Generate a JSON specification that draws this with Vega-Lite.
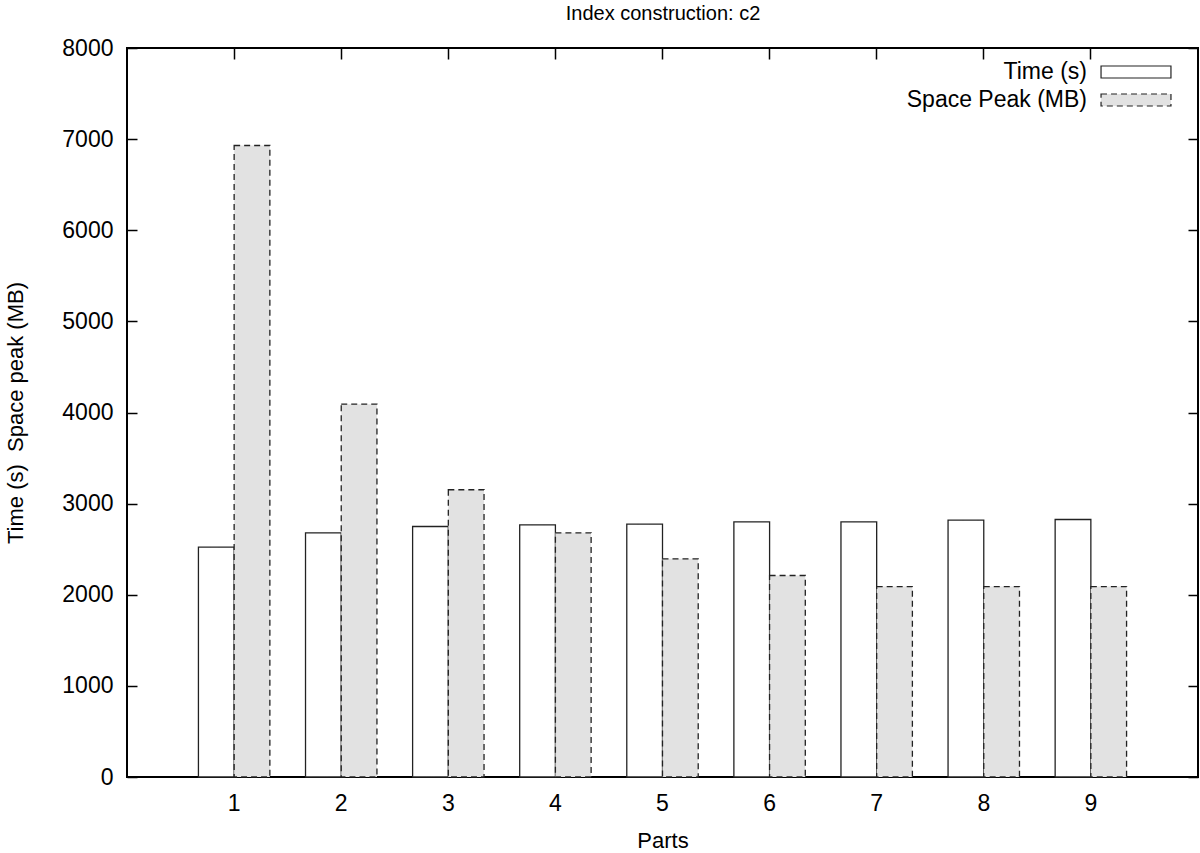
{
  "$schema": "https://vega.github.io/schema/vega-lite/v6.json",
  "width": 1071,
  "height": 729,
  "autosize": {"type": "none"},
  "padding": {"left": 127, "top": 48, "right": 2, "bottom": 76},
  "background": "white",
  "config": {
    "view": {"stroke": "black", "strokeWidth": 2},
    "font": "Liberation Sans",
    "axis": {"domain": false, "grid": false, "labelFont": "Liberation Sans", "labelFontSize": 23, "labelColor": "black", "titleFont": "Liberation Sans", "titleFontSize": 22, "titleFontWeight": "normal", "titleColor": "black", "tickColor": "black", "tickWidth": 1.5}
  },
  "data": {"values": [
    {"part": "1", "series": "Time (s)", "value": 2522},
    {"part": "2", "series": "Time (s)", "value": 2680},
    {"part": "3", "series": "Time (s)", "value": 2749},
    {"part": "4", "series": "Time (s)", "value": 2767},
    {"part": "5", "series": "Time (s)", "value": 2774},
    {"part": "6", "series": "Time (s)", "value": 2800},
    {"part": "7", "series": "Time (s)", "value": 2800},
    {"part": "8", "series": "Time (s)", "value": 2818},
    {"part": "9", "series": "Time (s)", "value": 2826},
    {"part": "1", "series": "Space Peak (MB)", "value": 6930},
    {"part": "2", "series": "Space Peak (MB)", "value": 4091},
    {"part": "3", "series": "Space Peak (MB)", "value": 3152},
    {"part": "4", "series": "Space Peak (MB)", "value": 2680},
    {"part": "5", "series": "Space Peak (MB)", "value": 2394},
    {"part": "6", "series": "Space Peak (MB)", "value": 2211},
    {"part": "7", "series": "Space Peak (MB)", "value": 2090},
    {"part": "8", "series": "Space Peak (MB)", "value": 2090},
    {"part": "9", "series": "Space Peak (MB)", "value": 2090}
  ]},
  "layer": [
    {
      "mark": {"type": "bar", "stroke": "#222222", "strokeWidth": 1.3},
      "encoding": {
        "x": {"field": "part", "type": "ordinal", "sort": ["1","2","3","4","5","6","7","8","9"],
              "scale": {"paddingInner": 0.333, "paddingOuter": 0.667},
              "axis": {"title": "Parts", "labelAngle": 0, "tickSize": -9, "labelPadding": 24, "titleY": 70, "titleBaseline": "alphabetic"}},
        "xOffset": {"field": "series", "type": "nominal", "sort": ["Time (s)", "Space Peak (MB)"], "scale": {"paddingInner": 0, "paddingOuter": 0}},
        "y": {"field": "value", "type": "quantitative", "scale": {"domain": [0, 8000], "nice": false},
              "axis": {"title": "Time (s)\u00a0\u00a0Space peak (MB)", "format": "d", "values": [0,1000,2000,3000,4000,5000,6000,7000,8000], "tickSize": -10, "labelPadding": 24, "titleX": -112, "titleBaseline": "middle"}},
        "fill": {"field": "series", "type": "nominal", "sort": ["Time (s)", "Space Peak (MB)"],
                 "scale": {"domain": ["Time (s)", "Space Peak (MB)"], "range": ["#ffffff", "#e2e2e2"]},
                 "legend": {"title": null, "orient": "none", "legendX": 996.5, "legendY": 11.5, "symbolType": "M-3.04,-0.52H3.04V0.52H-3.04Z", "symbolSize": 529, "symbolStrokeWidth": 1.2, "symbolStrokeColor": "#222222", "labelAlign": "right", "labelOffset": -61.5, "labelFontSize": 23, "labelFont": "Liberation Sans", "labelColor": "black", "rowPadding": 3, "labelLimit": 400,
                            "encode": {"symbols": {"update": {"stroke": {"value": "#222222"}, "strokeWidth": {"value": 1.2}}}}}},
        "strokeDash": {"field": "series", "type": "nominal", "sort": ["Time (s)", "Space Peak (MB)"],
                 "scale": {"domain": ["Time (s)", "Space Peak (MB)"], "range": [[1, 0], [6, 4]]},
                 "legend": {"title": null, "orient": "none", "legendX": 996.5, "legendY": 11.5, "symbolType": "M-3.04,-0.52H3.04V0.52H-3.04Z", "symbolSize": 529, "symbolStrokeWidth": 1.2, "symbolStrokeColor": "#222222", "labelAlign": "right", "labelOffset": -61.5, "labelFontSize": 23, "labelFont": "Liberation Sans", "labelColor": "black", "rowPadding": 3, "labelLimit": 400,
                            "encode": {"symbols": {"update": {"stroke": {"value": "#222222"}, "strokeWidth": {"value": 1.2}}}}}}
      }
    },
    {
      "mark": {"type": "bar", "opacity": 0},
      "encoding": {
        "x": {"field": "part", "type": "ordinal", "sort": ["1","2","3","4","5","6","7","8","9"],
              "axis": {"orient": "top", "labels": false, "title": "Index construction: c2", "titleFontSize": 20, "titleY": -29, "titleBaseline": "alphabetic", "tickSize": -11}},
        "y": {"field": "value", "type": "quantitative",
              "axis": {"orient": "right", "labels": false, "title": null, "values": [0,1000,2000,3000,4000,5000,6000,7000,8000], "tickSize": -10}}
      }
    }
  ],
  "resolve": {"axis": {"x": "independent", "y": "independent"}}
}
